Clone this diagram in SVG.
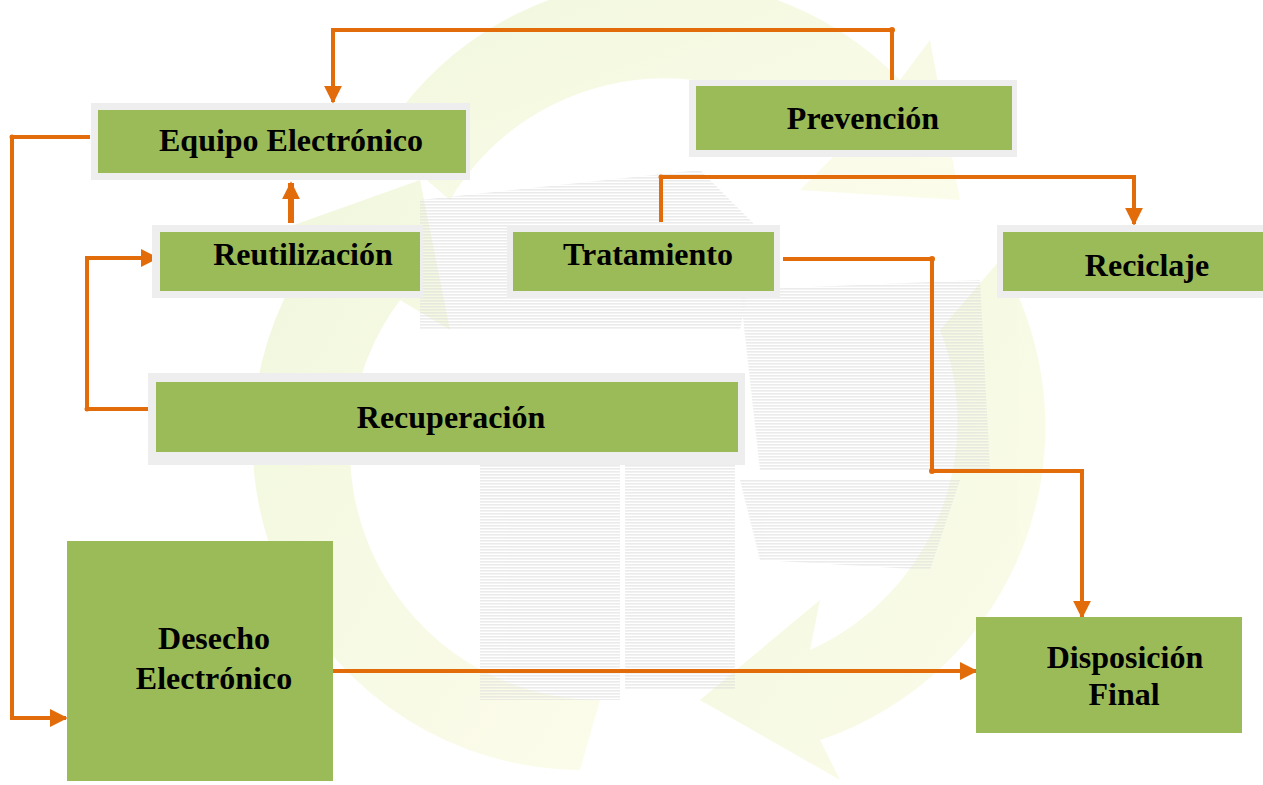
<svg xmlns="http://www.w3.org/2000/svg" width="1263" height="785" viewBox="0 0 1263 785">
<defs>
<style>
.frame{fill:#eeeeee;}
.box{fill:#9bbb59;}
.lbl{font-family:"Liberation Serif","Times New Roman",serif;font-weight:bold;font-size:32px;fill:#000;text-anchor:middle;}
.con{fill:none;stroke:#e36c0a;stroke-width:4;stroke-linejoin:miter;}
.dot{fill:#e36c0a;}
.ring{fill:url(#gy);}
.photo{fill:url(#hatch);}
</style>
<marker id="ah" viewBox="0 0 10 10" refX="9" refY="5" markerWidth="4.5" markerHeight="4.5" orient="auto" markerUnits="strokeWidth">
<path d="M0,0 L10,5 L0,10 z" fill="#e36c0a"/>
</marker>
<marker id="ah2" viewBox="0 0 10 10" refX="9" refY="5" markerWidth="3" markerHeight="3" orient="auto" markerUnits="strokeWidth">
<path d="M0,0 L10,5 L0,10 z" fill="#e36c0a"/>
</marker>
<linearGradient id="gy" x1="0" y1="0" x2="1" y2="1">
<stop offset="0" stop-color="#eef6d6"/>
<stop offset="1" stop-color="#fcfce6"/>
</linearGradient>
<pattern id="hatch" width="6" height="3" patternUnits="userSpaceOnUse">
<rect width="6" height="1.6" fill="#d4d4d4"/>
</pattern>
</defs>
<rect width="1263" height="785" fill="#ffffff"/>
<g id="background" opacity="0.8">
<path class="ring" d="M380,140 A330,330 0 0 1 900,80 L930,40 L960,200 L800,190 L840,150 A250,250 0 0 0 450,200 Z"/>
<path class="ring" d="M1000,260 A330,330 0 0 1 820,740 L840,780 L700,700 L820,600 L810,650 A250,250 0 0 0 940,330 Z"/>
<path class="ring" d="M580,770 A330,330 0 0 1 320,240 L280,230 L420,180 L450,330 L400,300 A250,250 0 0 0 600,700 Z"/>
<g opacity="0.55">
<path class="photo" d="M420,200 L700,170 L760,230 L740,330 L420,330 Z"/>
<path class="photo" d="M740,290 L980,280 L990,470 L760,470 Z"/>
<rect class="photo" x="480" y="450" width="140" height="250"/>
<rect class="photo" x="625" y="450" width="110" height="240"/>
<path class="photo" d="M740,480 L960,480 L930,570 L760,560 Z"/>
</g>
</g>
<g id="connectors">
<polyline class="con" points="892,80 892,30 333,30 333,102" marker-end="url(#ah)"/>
<circle class="dot" cx="892" cy="30" r="3"/>
<polyline class="con" points="90,137 12,137 12,718 66,718" marker-end="url(#ah)"/>
<circle class="dot" cx="12" cy="137" r="2.5"/>
<line class="con" style="stroke-width:6" x1="291" y1="223" x2="291" y2="183" marker-end="url(#ah2)"/>
<polyline class="con" points="150,409 87,409 87,258 157,258" marker-end="url(#ah)"/>
<circle class="dot" cx="87" cy="409" r="2.5"/>
<polyline class="con" points="661,222 661,177 1134,177 1134,224" marker-end="url(#ah)"/>
<circle class="dot" cx="661" cy="177" r="2.5"/>
<polyline class="con" points="783,259 932,259 932,471 1082,471 1082,617" marker-end="url(#ah)"/>
<circle class="dot" cx="932" cy="259" r="3"/>
<circle class="dot" cx="932" cy="471" r="3"/>
<line class="con" x1="333" y1="671" x2="976" y2="671" marker-end="url(#ah)"/>
</g>
<g id="equipo">
<rect class="frame" x="91" y="103" width="379" height="77"/>
<rect class="box" x="98" y="110" width="368" height="63"/>
<text class="lbl" x="291" y="151">Equipo Electrónico</text>
</g>
<g id="prevencion">
<rect class="frame" x="689" y="80" width="328" height="77"/>
<rect class="box" x="696" y="86" width="316" height="64"/>
<text class="lbl" x="863" y="129">Prevención</text>
</g>
<g id="reutilizacion">
<rect class="frame" x="152" y="225" width="271" height="73"/>
<rect class="box" x="160" y="232" width="260" height="59"/>
<text class="lbl" x="303" y="265">Reutilización</text>
</g>
<g id="tratamiento">
<rect class="frame" x="507" y="225" width="273" height="73"/>
<rect class="box" x="513" y="232" width="261" height="59"/>
<text class="lbl" x="648" y="265">Tratamiento</text>
</g>
<g id="reciclaje">
<rect class="frame" x="997" y="225" width="266" height="73"/>
<rect class="box" x="1003" y="232" width="260" height="59"/>
<text class="lbl" x="1147" y="276">Reciclaje</text>
</g>
<g id="recuperacion">
<rect class="frame" x="148" y="373" width="597" height="92"/>
<rect class="box" x="156" y="382" width="582" height="70"/>
<text class="lbl" x="451" y="428">Recuperación</text>
</g>
<g id="desecho">
<rect class="box" x="67" y="541" width="266" height="240"/>
<text class="lbl" x="214" y="649">Desecho</text>
<text class="lbl" x="214" y="689">Electrónico</text>
</g>
<g id="disposicion">
<rect class="box" x="976" y="617" width="266" height="116"/>
<text class="lbl" x="1125" y="668">Disposición</text>
<text class="lbl" x="1124" y="705">Final</text>
</g>
</svg>
